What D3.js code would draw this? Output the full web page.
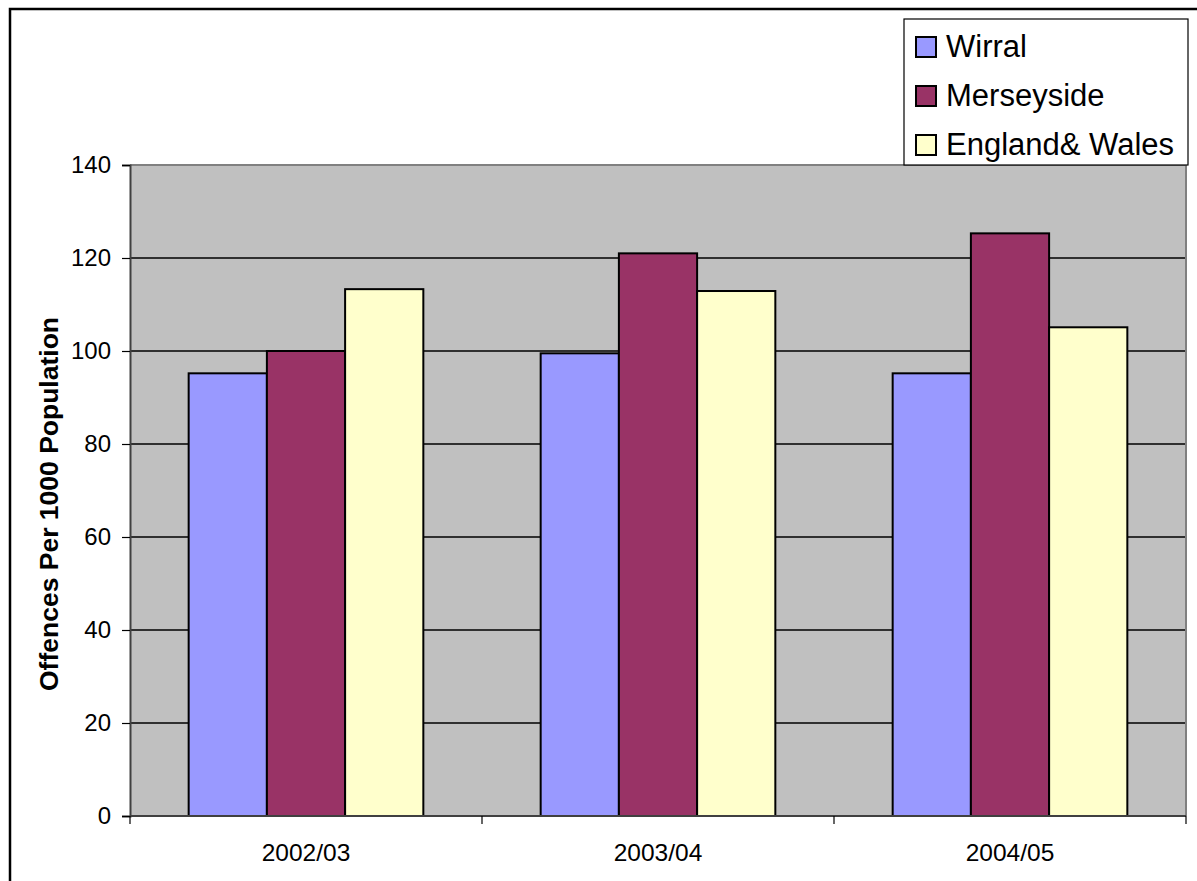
<!DOCTYPE html>
<html>
<head>
<meta charset="utf-8">
<script src="https://cdn.jsdelivr.net/npm/d3@7"></script>
<style>
  body { margin: 0; background: #fff; }
  svg { display: block; font-family: "Liberation Sans", Arial, sans-serif; }
</style>
</head>
<body>
<div id="chart"></div>
<script>
// data
var categories = ["2002/03", "2003/04", "2004/05"];
var seriesNames = ["Wirral", "Merseyside", "England& Wales"];
var wirral = [95.2, 99.5, 95.2];
var merseyside = [100.0, 121.0, 125.3];
var englandWales = [113.3, 112.9, 105.1];
var yTicks = [0, 20, 40, 60, 80, 100, 120, 140];
var colours = ["#9999FF", "#993366", "#FFFFCC"];

var seriesValues = [wirral, merseyside, englandWales];

var W = 1197, H = 881;
var plot = {left: 130, top: 165, right: 1186, bottom: 816};

var svg = d3.select("#chart").append("svg")
  .attr("width", W)
  .attr("height", H);

// outer chart border (runs off right / bottom edge)
svg.append("rect")
  .attr("x", 10).attr("y", 9)
  .attr("width", W + 20).attr("height", H + 20)
  .attr("fill", "#fff")
  .attr("stroke", "#000")
  .attr("stroke-width", 2.5);

var x0 = d3.scaleBand()
  .domain(categories)
  .range([plot.left, plot.right]);

var x1 = d3.scaleBand()
  .domain(seriesNames)
  .range([0, x0.bandwidth()])
  .paddingInner(0)
  .paddingOuter(0.75);

var y = d3.scaleLinear()
  .domain([0, 140])
  .range([plot.bottom, plot.top]);

// plot area
svg.append("rect")
  .attr("x", plot.left).attr("y", plot.top)
  .attr("width", plot.right - plot.left)
  .attr("height", plot.bottom - plot.top)
  .attr("fill", "#C0C0C0");

// gridlines
svg.append("g")
  .selectAll("line")
  .data(yTicks.filter(function(d) { return d > 0 && d < 140; }))
  .join("line")
  .attr("x1", plot.left).attr("x2", plot.right)
  .attr("y1", function(d) { return y(d); })
  .attr("y2", function(d) { return y(d); })
  .attr("stroke", "#000")
  .attr("stroke-width", 1.5);

// plot border top / right
svg.append("path")
  .attr("d", "M" + plot.left + "," + plot.top + "H" + plot.right + "V" + plot.bottom)
  .attr("fill", "none")
  .attr("stroke", "#808080")
  .attr("stroke-width", 2);

// bars
var groups = svg.append("g")
  .selectAll("g")
  .data(categories)
  .join("g")
  .attr("transform", function(d) { return "translate(" + x0(d) + ",0)"; });

groups.selectAll("rect")
  .data(function(c, i) {
    return seriesNames.map(function(s, j) {
      return {series: s, value: seriesValues[j][i], colour: colours[j]};
    });
  })
  .join("rect")
  .attr("x", function(d) { return x1(d.series); })
  .attr("width", x1.bandwidth())
  .attr("y", function(d) { return y(d.value); })
  .attr("height", function(d) { return y(0) - y(d.value); })
  .attr("fill", function(d) { return d.colour; })
  .attr("stroke", "#000")
  .attr("stroke-width", 2);

// y axis
var yAxis = d3.axisLeft(y)
  .tickValues(yTicks)
  .tickSize(8)
  .tickPadding(11)
  .tickFormat(d3.format("d"));

var gy = svg.append("g")
  .attr("transform", "translate(" + plot.left + ",0)")
  .call(yAxis);
gy.select(".domain").attr("stroke", "#404040").attr("stroke-width", 2);
gy.selectAll(".tick line").attr("stroke", "#000").attr("stroke-width", 1.2);
gy.selectAll("text").attr("font-size", 24).attr("fill", "#000")
  .attr("font-family", "Liberation Sans, Arial, sans-serif");

// x axis: ticks on category boundaries
var xAxis = svg.append("g")
  .attr("transform", "translate(0," + plot.bottom + ")");
xAxis.append("line")
  .attr("x1", plot.left).attr("x2", plot.right)
  .attr("stroke", "#404040").attr("stroke-width", 2);
xAxis.selectAll(".bound")
  .data(categories.concat(["end"]))
  .join("line")
  .attr("class", "bound")
  .attr("x1", function(d, i) { return i < categories.length ? x0(d) : plot.right; })
  .attr("x2", function(d, i) { return i < categories.length ? x0(d) : plot.right; })
  .attr("y1", 0).attr("y2", 8)
  .attr("stroke", "#000").attr("stroke-width", 1.2);
xAxis.selectAll("text")
  .data(categories)
  .join("text")
  .attr("x", function(d) { return x0(d) + x0.bandwidth() / 2; })
  .attr("y", 45)
  .attr("text-anchor", "middle")
  .attr("font-size", 24.5)
  .text(function(d) { return d; });

// y axis title
svg.append("text")
  .attr("transform", "translate(58,504) rotate(-90)")
  .attr("text-anchor", "middle")
  .attr("font-size", 26.5)
  .attr("font-weight", "bold")
  .text("Offences Per 1000 Population");

// legend
var legend = svg.append("g");
legend.append("rect")
  .attr("x", 904).attr("y", 19)
  .attr("width", 284).attr("height", 146)
  .attr("fill", "#fff")
  .attr("stroke", "#000")
  .attr("stroke-width", 1.2);

var rows = legend.selectAll(".row")
  .data(seriesNames)
  .join("g")
  .attr("class", "row")
  .attr("transform", function(d, i) { return "translate(916," + (37 + i * 49) + ")"; });
rows.append("rect")
  .attr("width", 20).attr("height", 20)
  .attr("fill", function(d, i) { return colours[i]; })
  .attr("stroke", "#000")
  .attr("stroke-width", 2);
rows.append("text")
  .attr("x", 30).attr("y", 20)
  .attr("font-size", 31)
  .text(function(d) { return d; });
</script>
</body>
</html>
